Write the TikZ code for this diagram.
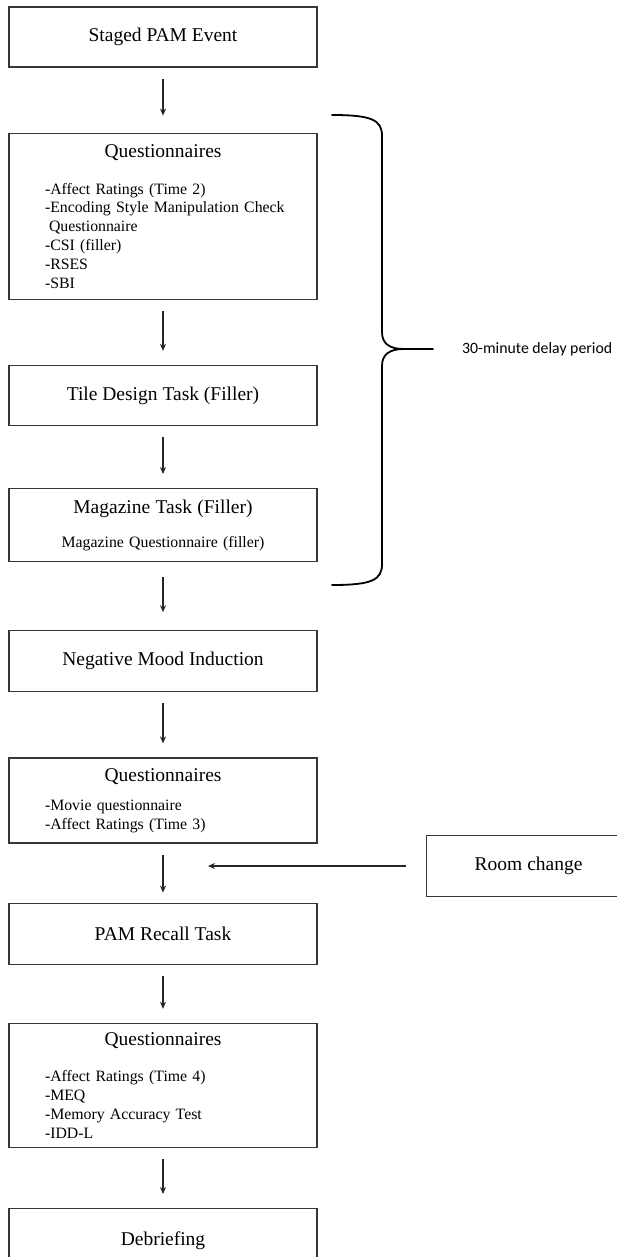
\documentclass[tikz,border=0pt]{standalone}
\usepackage{fontspec}
\setmainfont{Liberation Serif}
\newfontfamily\delayfont{Carlito}
\usetikzlibrary{arrows.meta,positioning}
\definecolor{boxline}{RGB}{55,55,55}
\newcommand{\headsize}{\fontsize{19.5pt}{23pt}\selectfont}
\newcommand{\listsize}{\fontsize{15.8pt}{18.8pt}\selectfont}
\newcommand{\boxhead}[1]{\hspace*{-18pt}\makebox[272pt]{\headsize #1}}
\newcommand{\boxline}[1]{\hspace*{-18pt}\makebox[272pt]{#1}}

\begin{document}
\begin{tikzpicture}[
  x=1pt,y=-1pt,
  font=\headsize,
  node distance=65pt,
  stepbox/.style={draw=boxline,line width=1.2pt,minimum width=308pt,minimum height=60pt,inner sep=0pt,align=center},
  listbox/.style={draw=boxline,line width=1.2pt,minimum width=308pt,text width=272pt,inner xsep=18pt,inner ysep=0pt,align=left,font=\listsize,execute at begin node={\leftskip=18pt}},
  arr/.style={-{Stealth[length=7pt,width=6pt]},line width=1.2pt,black!85,shorten <=11pt,shorten >=14pt},
  brace/.style={line width=1.8pt,line cap=round,black}
]
\useasboundingbox (0,0) rectangle (616,1257);

% main sequence
\node[stepbox] (stage) at (163,37) {Staged PAM Event};
\node[listbox,minimum height=166pt,below=of stage] (quest1) {\boxhead{Questionnaires}\\[18.2pt]
  -Affect Ratings (Time 2)\\
  -Encoding Style Manipulation Check\\
  \hspace*{4pt}Questionnaire\\
  -CSI (filler)\\
  -RSES\\
  -SBI};
\node[stepbox,below=of quest1] (tile) {Tile Design Task (Filler)};
\node[listbox,minimum height=73pt,below=62pt of tile] (magazine) {\boxhead{Magazine Task (Filler)}\\[15.2pt]
  \boxline{Magazine Questionnaire (filler)}};
\node[stepbox,minimum height=61pt,below=68pt of magazine] (mood) {Negative Mood Induction};
\node[listbox,minimum height=85pt,below=of mood] (quest2) {\boxhead{Questionnaires}\\[10.2pt]
  -Movie questionnaire\\
  -Affect Ratings (Time 3)};
\node[stepbox,minimum height=61pt,below=59pt of quest2] (recall) {PAM Recall Task};
\node[listbox,minimum height=124pt,below=58pt of recall] (quest3) {\boxhead{Questionnaires}\\[17.2pt]
  -Affect Ratings (Time 4)\\
  -MEQ\\
  -Memory Accuracy Test\\
  -IDD-L};
\node[stepbox,minimum height=64pt,below=60pt of quest3] (debrief) {Debriefing};

% side box
\node[stepbox,minimum width=204pt,minimum height=61pt,anchor=west] (room) at (426,866) {Room change};
\path (room.west) ++(-218pt,0) coordinate (roomin);

\draw[arr,shorten >=17pt] (stage) -- (quest1);
\draw[arr] (quest1) -- (tile);
\draw[arr] (tile) -- (magazine);
\draw[arr,shorten <=15pt,shorten >=18pt] (magazine) -- (mood);
\draw[arr] (mood) -- (quest2);
\draw[arr,shorten >=10pt] (quest2) -- (recall);
\draw[arr] (recall) -- (quest3);
\draw[arr] (quest3) -- (debrief);
\draw[arr,line width=1.4pt,shorten <=20pt,shorten >=0pt] (room.west) -- (roomin);

% delay brace
\draw[brace] (332,115) .. controls (372,115) and (382,120) .. (382,136)
  -- (382,332) .. controls (382,344) and (390,349) .. (404,349) -- (433,349);
\draw[brace] (404,349) .. controls (390,349) and (382,354) .. (382,366)
  -- (382,564) .. controls (382,580) and (372,585) .. (332,585);
\node[anchor=west,font=\delayfont\listsize,inner sep=0pt] (delay) at (462,349) {30-minute delay period};
\end{tikzpicture}
\end{document}
